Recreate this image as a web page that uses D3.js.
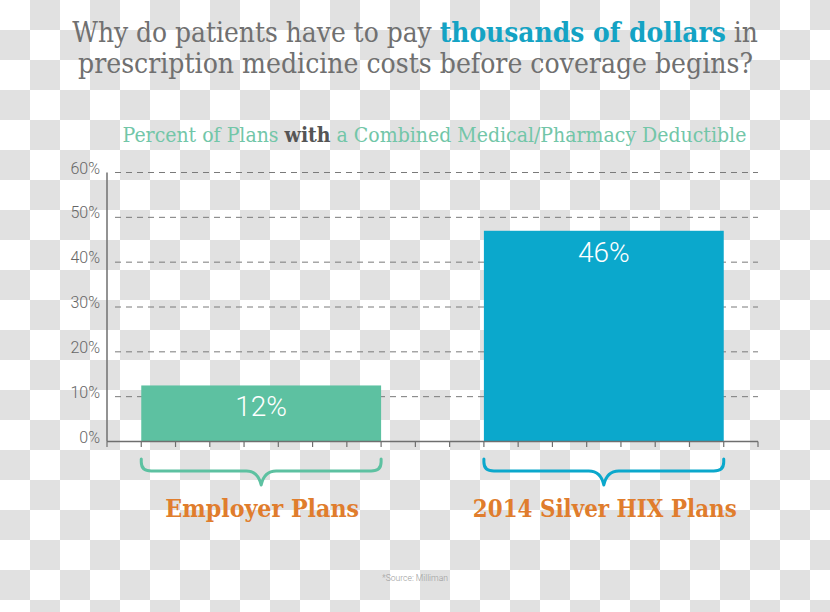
<!DOCTYPE html>
<html><head><meta charset="utf-8">
<script src="https://cdn.jsdelivr.net/npm/d3@7"></script>
<style>body{margin:0;background:#fff}svg{display:block}</style>
</head><body>
<svg id="chart" width="830" height="612"></svg>
<script>
// ---- data ----
const categories = ["Employer Plans", "2014 Silver HIX Plans"];
const barValues = [12.5, 47];
const valueLabels = ["12%", "46%"];
const yTicks = [0, 10, 20, 30, 40, 50, 60];
const yTickLabels = ["0%", "10%", "20%", "30%", "40%", "50%", "60%"];
const barColors = ["#5dc1a1", "#0ba8cc"];
const titleLine1 = [
  {t: "Why do patients have to pay ", bold: false},
  {t: "thousands of dollars", bold: true},
  {t: " in", bold: false}
];
const titleLine2 = "prescription medicine costs before coverage begins?";
const subtitleParts = [
  {t: "Percent of Plans ", bold: false},
  {t: "with", bold: true},
  {t: " a Combined Medical/Pharmacy Deductible", bold: false}
];
const sourceText = "*Source: Milliman";
const xTickCount = 20;

// ---- layout ----
const W = 830, H = 612;
const x0 = 107, x1 = 758, yTop = 172.5, yBase = 441.5;
const svg = d3.select("#chart");
const serif = "'DejaVu Serif Condensed', 'DejaVu Serif', 'Liberation Serif', serif";
const sans = "Roboto, 'Liberation Sans', sans-serif";

// checkerboard background
const defs = svg.append("defs");
const pat = defs.append("pattern").attr("id", "cb").attr("width", 60).attr("height", 60)
  .attr("patternUnits", "userSpaceOnUse");
pat.append("rect").attr("width", 60).attr("height", 60).attr("fill", "#ffffff");
pat.append("rect").attr("x", 30).attr("y", 0).attr("width", 30).attr("height", 30).attr("fill", "#e1e1e1");
pat.append("rect").attr("x", 0).attr("y", 30).attr("width", 30).attr("height", 30).attr("fill", "#e1e1e1");
svg.append("rect").attr("width", W).attr("height", H).attr("fill", "url(#cb)");

function fit(sel, target) {
  const node = sel.node();
  const fs = parseFloat(sel.attr("font-size"));
  const w = node.getComputedTextLength();
  sel.attr("font-size", (fs * target / w).toFixed(2));
}

// title
const t1 = svg.append("text").attr("x", 415).attr("y", 42).attr("text-anchor", "middle")
  .attr("font-family", serif).attr("font-stretch", "condensed").attr("font-size", 24).attr("fill", "#707070");
t1.selectAll("tspan").data(titleLine1).join("tspan")
  .text(d => d.t)
  .attr("font-weight", d => d.bold ? "bold" : "normal")
  .attr("fill", d => d.bold ? "#14a3c4" : "#707070");
fit(t1, 686);
const t2 = svg.append("text").attr("x", 415.5).attr("y", 73).attr("text-anchor", "middle")
  .attr("font-family", serif).attr("font-stretch", "condensed").attr("font-size", 24).attr("fill", "#707070")
  .text(titleLine2);
fit(t2, 675);

// subtitle
const st = svg.append("text").attr("x", 434.5).attr("y", 142).attr("text-anchor", "middle")
  .attr("font-family", serif).attr("font-stretch", "condensed").attr("font-size", 18).attr("fill", "#72c6a8");
st.selectAll("tspan").data(subtitleParts).join("tspan")
  .text(d => d.t)
  .attr("font-weight", d => d.bold ? "bold" : "normal")
  .attr("fill", d => d.bold ? "#555555" : "#72c6a8");
fit(st, 624);

// scales
const y = d3.scaleLinear().domain([0, 60]).range([yBase, yTop]);
const xBand = d3.scaleBand().domain(categories).range([x0, x1]).paddingInner(0.3).paddingOuter(0.1);
const xTick = d3.scaleLinear().domain([0, xTickCount - 1]).range([x0, x1]);

// gridlines
svg.append("g").selectAll("line").data(yTicks.filter(d => d > 0)).join("line")
  .attr("x1", x0 + 8).attr("x2", x1).attr("y1", d => y(d)).attr("y2", d => y(d))
  .attr("stroke", "#7a7a7a").attr("stroke-width", 1).attr("stroke-dasharray", "6,5");

// y labels
svg.append("g").selectAll("text").data(yTicks).join("text")
  .attr("x", 100).attr("y", d => y(d) + 1).attr("text-anchor", "end")
  .attr("font-family", sans).attr("font-weight", 300).attr("font-size", 16).attr("fill", "#666")
  .text((d, i) => yTickLabels[i]);

// bars
svg.append("g").selectAll("rect").data(categories).join("rect")
  .attr("x", d => xBand(d)).attr("width", xBand.bandwidth())
  .attr("y", (d, i) => y(barValues[i])).attr("height", (d, i) => yBase - y(barValues[i]))
  .attr("fill", (d, i) => barColors[i]);

// value labels
svg.append("g").selectAll("text").data(categories).join("text")
  .attr("x", d => xBand(d) + xBand.bandwidth() / 2)
  .attr("y", (d, i) => y(barValues[i]) + 31)
  .attr("text-anchor", "middle").attr("font-family", sans).attr("font-weight", 300)
  .attr("font-size", 28).attr("fill", "#ffffff")
  .text((d, i) => valueLabels[i]);

// axes
svg.append("line").attr("x1", x0).attr("x2", x0).attr("y1", y(60)).attr("y2", yBase)
  .attr("stroke", "#6f6f6f").attr("stroke-width", 1.5);
svg.append("line").attr("x1", x0).attr("x2", x1).attr("y1", yBase).attr("y2", yBase)
  .attr("stroke", "#6f6f6f").attr("stroke-width", 1.5);
svg.append("g").selectAll("line").data(d3.range(xTickCount)).join("line")
  .attr("x1", d => xTick(d)).attr("x2", d => xTick(d)).attr("y1", yBase).attr("y2", yBase + 5.5)
  .attr("stroke", "#6f6f6f").attr("stroke-width", 1.2);

// braces
function brace(a, b) {
  const yt = 459, ym = 471, yp = 485, c = (a + b) / 2;
  return `M${a},${yt} L${a},${yt + 3} Q${a},${ym} ${a + 10},${ym} L${c - 15},${ym} ` +
    `Q${c - 3},${ym} ${c},${yp} Q${c + 3},${ym} ${c + 15},${ym} L${b - 10},${ym} ` +
    `Q${b},${ym} ${b},${yt + 3} L${b},${yt}`;
}
svg.append("g").selectAll("path").data(categories).join("path")
  .attr("d", d => brace(xBand(d), xBand(d) + xBand.bandwidth()))
  .attr("fill", "none").attr("stroke", (d, i) => barColors[i]).attr("stroke-width", 3)
  .attr("stroke-linecap", "round").attr("stroke-linejoin", "round");

// category labels
const catWidths = [194, 264];
svg.append("g").selectAll("text").data(categories).join("text")
  .attr("x", d => xBand(d) + xBand.bandwidth() / 2 + 1)
  .attr("y", 517).attr("text-anchor", "middle")
  .attr("font-family", serif).attr("font-stretch", "condensed").attr("font-weight", "bold").attr("font-size", 22)
  .attr("fill", "#e07d2d").text(d => d)
  .each(function(d, i) { fit(d3.select(this), catWidths[i]); });

// source
const src = svg.append("text").attr("x", 415).attr("y", 581).attr("text-anchor", "middle")
  .attr("font-family", sans).attr("font-weight", 300).attr("font-size", 10).attr("fill", "#9a9a9a")
  .text(sourceText);
fit(src, 66);
</script>
</body></html>
